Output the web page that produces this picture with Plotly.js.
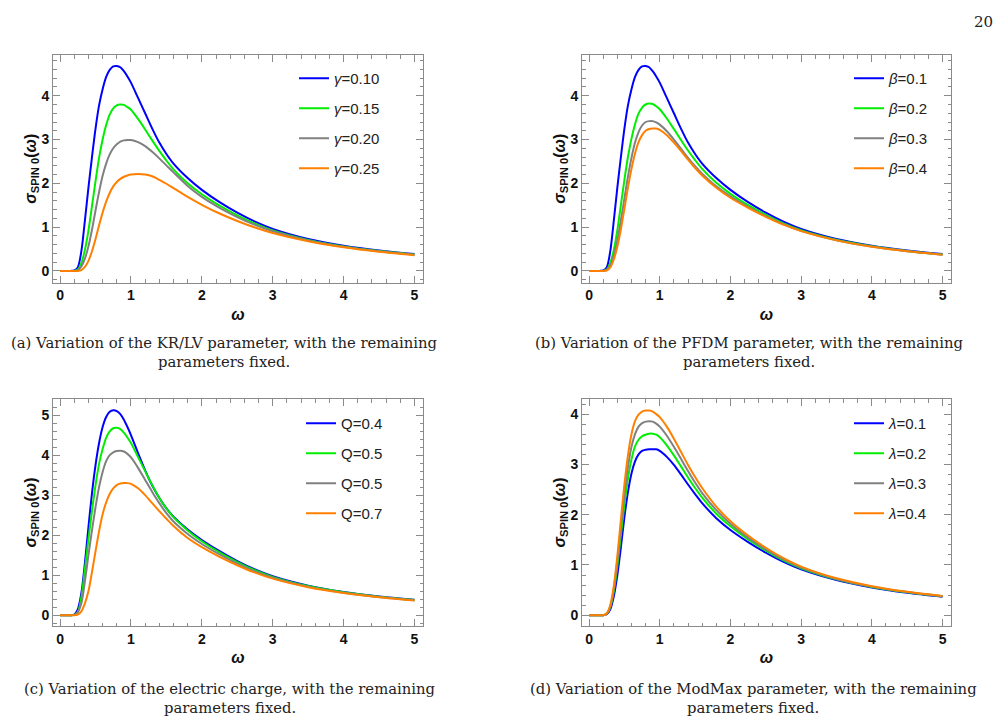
<!DOCTYPE html>
<html>
<head>
<meta charset="utf-8">
<script src="https://cdn.plot.ly/plotly-3.0.1.min.js"></script>
<style>
  html, body { margin: 0; padding: 0; background: #fff; }
  #fig { width: 1002px; height: 724px; }
</style>
</head>
<body>
<div id="fig"></div>
<script>
// Frequency grid shared by all curves
const omega = [0, 0.1, 0.15, 0.2, 0.25, 0.3, 0.35, 0.4, 0.45, 0.5, 0.55, 0.6, 0.65, 0.7, 0.75, 0.8,
  0.85, 0.9, 0.95, 1.0, 1.1, 1.2, 1.3, 1.4, 1.5, 1.6, 1.8, 2.0, 2.25, 2.5, 2.75, 3.0, 3.5, 4.0, 4.5, 5.0];

// (a) KR/LV parameter gamma
const gammaLabels = ['<i>γ</i>=0.10', '<i>γ</i>=0.15', '<i>γ</i>=0.20', '<i>γ</i>=0.25'];
const sigmaGamma010 = [0, 0, 0, 0.01, 0.08, 0.45, 1.15, 1.9, 2.6, 3.25, 3.78, 4.15, 4.43, 4.59, 4.67, 4.68,
  4.65, 4.56, 4.44, 4.30, 3.95, 3.6, 3.25, 2.93, 2.67, 2.45, 2.12, 1.85, 1.57, 1.33, 1.125, 0.96, 0.73, 0.575, 0.465, 0.383];
const sigmaGamma015 = [0, 0, 0, 0, 0.03, 0.18, 0.48, 0.92, 1.48, 2.05, 2.58, 3.0, 3.33, 3.57, 3.71, 3.78,
  3.80, 3.79, 3.74, 3.68, 3.47, 3.23, 2.98, 2.74, 2.52, 2.32, 2.0, 1.75, 1.49, 1.27, 1.08, 0.925, 0.708, 0.56, 0.455, 0.375];
const sigmaGamma020 = [0, 0, 0, 0, 0.01, 0.1, 0.28, 0.56, 0.94, 1.38, 1.8, 2.17, 2.45, 2.66, 2.8, 2.89,
  2.95, 2.98, 2.99, 2.99, 2.94, 2.85, 2.72, 2.57, 2.41, 2.25, 1.94, 1.69, 1.44, 1.23, 1.05, 0.905, 0.695, 0.551, 0.448, 0.37];
const sigmaGamma025 = [0, 0, 0, 0, 0, 0.02, 0.09, 0.23, 0.45, 0.73, 1.04, 1.33, 1.58, 1.78, 1.93, 2.03,
  2.1, 2.15, 2.18, 2.2, 2.21, 2.2, 2.16, 2.08, 1.99, 1.89, 1.69, 1.51, 1.31, 1.14, 0.99, 0.865, 0.675, 0.538, 0.437, 0.36];

// (b) PFDM parameter beta
const betaLabels = ['<i>β</i>=0.1', '<i>β</i>=0.2', '<i>β</i>=0.3', '<i>β</i>=0.4'];
const sigmaBeta01 = [0, 0, 0, 0.01, 0.08, 0.45, 1.15, 1.9, 2.6, 3.25, 3.78, 4.15, 4.43, 4.59, 4.67, 4.68,
  4.65, 4.56, 4.44, 4.30, 3.95, 3.6, 3.25, 2.93, 2.67, 2.45, 2.12, 1.85, 1.57, 1.33, 1.125, 0.96, 0.73, 0.575, 0.465, 0.383];
const sigmaBeta02 = [0, 0, 0, 0, 0.03, 0.18, 0.48, 0.93, 1.5, 2.08, 2.6, 3.02, 3.35, 3.59, 3.73, 3.8,
  3.82, 3.81, 3.76, 3.69, 3.48, 3.24, 2.99, 2.75, 2.53, 2.33, 2.01, 1.76, 1.5, 1.28, 1.085, 0.93, 0.71, 0.562, 0.456, 0.376];
const sigmaBeta03 = [0, 0, 0, 0, 0.02, 0.12, 0.35, 0.7, 1.15, 1.65, 2.15, 2.58, 2.93, 3.17, 3.32, 3.4,
  3.42, 3.42, 3.39, 3.34, 3.19, 3.0, 2.79, 2.58, 2.39, 2.22, 1.93, 1.7, 1.46, 1.25, 1.065, 0.915, 0.702, 0.555, 0.45, 0.371];
const sigmaBeta04 = [0, 0, 0, 0, 0.01, 0.08, 0.26, 0.55, 0.95, 1.42, 1.9, 2.33, 2.68, 2.94, 3.1, 3.2,
  3.24, 3.25, 3.25, 3.22, 3.1, 2.93, 2.74, 2.54, 2.35, 2.18, 1.9, 1.67, 1.44, 1.235, 1.055, 0.908, 0.697, 0.552, 0.448, 0.369];

// (c) electric charge Q
const chargeLabels = ['Q=0.4', 'Q=0.5', 'Q=0.5', 'Q=0.7'];
const sigmaQ04 = [0, 0, 0, 0.02, 0.15, 0.55, 1.3, 2.2, 3.05, 3.75, 4.3, 4.7, 4.95, 5.08, 5.12, 5.1,
  5.02, 4.88, 4.7, 4.5, 4.05, 3.62, 3.24, 2.93, 2.67, 2.46, 2.14, 1.88, 1.6, 1.355, 1.145, 0.975, 0.74, 0.582, 0.47, 0.387];
const sigmaQ05 = [0, 0, 0, 0.01, 0.08, 0.45, 1.15, 1.9, 2.6, 3.25, 3.78, 4.15, 4.43, 4.59, 4.67, 4.68,
  4.65, 4.56, 4.44, 4.30, 3.95, 3.6, 3.25, 2.93, 2.67, 2.45, 2.12, 1.85, 1.57, 1.33, 1.125, 0.96, 0.73, 0.575, 0.465, 0.383];
const sigmaQ06 = [0, 0, 0, 0.01, 0.08, 0.3, 0.85, 1.5, 2.12, 2.7, 3.2, 3.58, 3.85, 4.0, 4.07, 4.1,
  4.11, 4.09, 4.03, 3.94, 3.68, 3.38, 3.08, 2.8, 2.55, 2.34, 2.03, 1.78, 1.52, 1.29, 1.095, 0.938, 0.716, 0.565, 0.458, 0.378];
const sigmaQ07 = [0, 0, 0, 0, 0.02, 0.1, 0.3, 0.6, 1.08, 1.6, 2.1, 2.52, 2.82, 3.03, 3.17, 3.25,
  3.29, 3.3, 3.3, 3.28, 3.17, 3.0, 2.8, 2.6, 2.41, 2.23, 1.93, 1.7, 1.46, 1.25, 1.065, 0.915, 0.702, 0.555, 0.45, 0.371];

// (d) ModMax parameter lambda
const lambdaLabels = ['<i>λ</i>=0.1', '<i>λ</i>=0.2', '<i>λ</i>=0.3', '<i>λ</i>=0.4'];
const sigmaLambda01 = [0, 0, 0, 0, 0.02, 0.12, 0.38, 0.8, 1.35, 1.95, 2.45, 2.82, 3.06, 3.2, 3.27, 3.29,
  3.3, 3.3, 3.3, 3.27, 3.15, 2.99, 2.8, 2.6, 2.41, 2.23, 1.93, 1.695, 1.455, 1.245, 1.062, 0.913, 0.7, 0.554, 0.449, 0.37];
const sigmaLambda02 = [0, 0, 0, 0, 0.03, 0.16, 0.48, 0.98, 1.6, 2.2, 2.72, 3.1, 3.36, 3.49, 3.56, 3.59,
  3.61, 3.61, 3.59, 3.54, 3.38, 3.18, 2.96, 2.74, 2.53, 2.34, 2.02, 1.77, 1.51, 1.285, 1.092, 0.935, 0.714, 0.564, 0.457, 0.377];
const sigmaLambda03 = [0, 0, 0, 0, 0.03, 0.18, 0.53, 1.08, 1.75, 2.4, 2.95, 3.35, 3.6, 3.75, 3.82, 3.85,
  3.86, 3.85, 3.81, 3.75, 3.57, 3.35, 3.11, 2.87, 2.64, 2.43, 2.09, 1.82, 1.545, 1.31, 1.11, 0.949, 0.723, 0.57, 0.461, 0.38];
const sigmaLambda04 = [0, 0, 0, 0, 0.04, 0.2, 0.58, 1.18, 1.9, 2.6, 3.18, 3.6, 3.86, 3.99, 4.05, 4.07,
  4.07, 4.05, 4.0, 3.94, 3.75, 3.51, 3.25, 2.99, 2.75, 2.53, 2.16, 1.87, 1.585, 1.342, 1.135, 0.968, 0.735, 0.579, 0.468, 0.385];

const captions = [
  ['(a) Variation of the KR/LV parameter, with the remaining', 'parameters fixed.'],
  ['(b) Variation of the PFDM parameter, with the remaining', 'parameters fixed.'],
  ['(c) Variation of the electric charge, with the remaining', 'parameters fixed.'],
  ['(d) Variation of the ModMax parameter, with the remaining', 'parameters fixed.']
];

const lineColors = ['#0000ff', '#00ee00', '#808080', '#ff8000'];

const W = 1002, H = 724;
const px = v => v / W;            // horizontal pixel -> paper
const py = v => 1 - v / H;        // vertical pixel (from top) -> paper

const panels = [
  { series: [sigmaGamma010, sigmaGamma015, sigmaGamma020, sigmaGamma025], labels: gammaLabels,
    left: 53, right: 423, top: 55, bottom: 282.5, yr: [-0.265, 4.93], legX: 294, legY: 62,
    capX: 224, capY: 342.5 },
  { series: [sigmaBeta01, sigmaBeta02, sigmaBeta03, sigmaBeta04], labels: betaLabels,
    left: 582, right: 951, top: 55, bottom: 282.5, yr: [-0.265, 4.93], legX: 849, legY: 62,
    capX: 749, capY: 342.5 },
  { series: [sigmaQ04, sigmaQ05, sigmaQ06, sigmaQ07], labels: chargeLabels,
    left: 53, right: 423, top: 399, bottom: 626, yr: [-0.267, 5.40], legX: 301, legY: 407,
    capX: 230, capY: 688 },
  { series: [sigmaLambda01, sigmaLambda02, sigmaLambda03, sigmaLambda04], labels: lambdaLabels,
    left: 582, right: 951, top: 399, bottom: 626, yr: [-0.213, 4.30], legX: 849, legY: 407,
    capX: 753, capY: 688 }
];

const sans = 'Liberation Sans, Arial, sans-serif';
const serif = 'DejaVu Serif, serif';
const frame = '#8a8a8a';

const traces = [];
const layout = {
  width: W, height: H,
  margin: { l: 0, r: 0, t: 0, b: 0 },
  paper_bgcolor: '#ffffff', plot_bgcolor: '#ffffff',
  showlegend: true,
  annotations: [],
  font: { family: sans, color: '#111' }
};

panels.forEach((p, i) => {
  const n = i === 0 ? '' : String(i + 1);
  const legendId = 'legend' + n;
  p.series.forEach((ys, k) => {
    traces.push({
      x: omega, y: ys, type: 'scatter', mode: 'lines',
      name: p.labels[k],
      xaxis: 'x' + n, yaxis: 'y' + n,
      legend: legendId, legendgroup: 'g' + i + '_' + k,
      line: { color: lineColors[k], width: 2, shape: 'spline', smoothing: 0.8 },
      hoverinfo: 'skip'
    });
  });

  const axisCommon = {
    showline: true, linecolor: frame, linewidth: 1, mirror: 'allticks',
    ticks: 'inside', ticklen: 7, tickwidth: 1, tickcolor: frame,
    showgrid: false, zeroline: false, tick0: 0, dtick: 1,
    minor: { ticks: 'inside', ticklen: 3.5, tickwidth: 1, tickcolor: frame, dtick: 0.2, showgrid: false },
    tickfont: { family: sans, size: 14, color: '#111', weight: 'bold' },
    fixedrange: true
  };

  layout['xaxis' + n] = Object.assign({}, axisCommon, {
    domain: [px(p.left), px(p.right)], range: [-0.1, 5.12], anchor: 'y' + n,
    title: { text: '<i>ω</i>', standoff: 6, font: { family: sans, size: 16, color: '#111', weight: 'bold' } }
  });
  layout['yaxis' + n] = Object.assign({}, axisCommon, {
    domain: [py(p.bottom), py(p.top)], range: p.yr, anchor: 'x' + n,
    title: { text: '<i>σ</i><sub>SPIN 0</sub>(<i>ω</i>)', standoff: 0,
             font: { family: sans, size: 16, color: '#111', weight: 'bold' } }
  });

  layout[legendId] = {
    x: px(p.legX), y: py(p.legY), xanchor: 'left', yanchor: 'top',
    bgcolor: 'rgba(0,0,0,0)', borderwidth: 0,
    font: { family: sans, size: 15, color: '#222' },
    tracegroupgap: 7.5, itemwidth: 30, traceorder: 'grouped'
  };

  // two-line caption under each panel
  layout.annotations.push({
    xref: 'paper', yref: 'paper', x: px(p.capX), y: py(p.capY), xanchor: 'center', yanchor: 'middle',
    text: captions[i][0], showarrow: false,
    font: { family: serif, size: 14.8, color: '#222' }
  });
  layout.annotations.push({
    xref: 'paper', yref: 'paper', x: px(p.capX), y: py(p.capY + 19), xanchor: 'center', yanchor: 'middle',
    text: captions[i][1], showarrow: false,
    font: { family: serif, size: 14.8, color: '#222' }
  });
});

// page number
layout.annotations.push({
  xref: 'paper', yref: 'paper', x: px(983), y: py(22), xanchor: 'center', yanchor: 'middle',
  text: '20', showarrow: false, font: { family: serif, size: 15, color: '#222' }
});

Plotly.newPlot('fig', traces, layout, { staticPlot: true, displayModeBar: false });
</script>
</body>
</html>
